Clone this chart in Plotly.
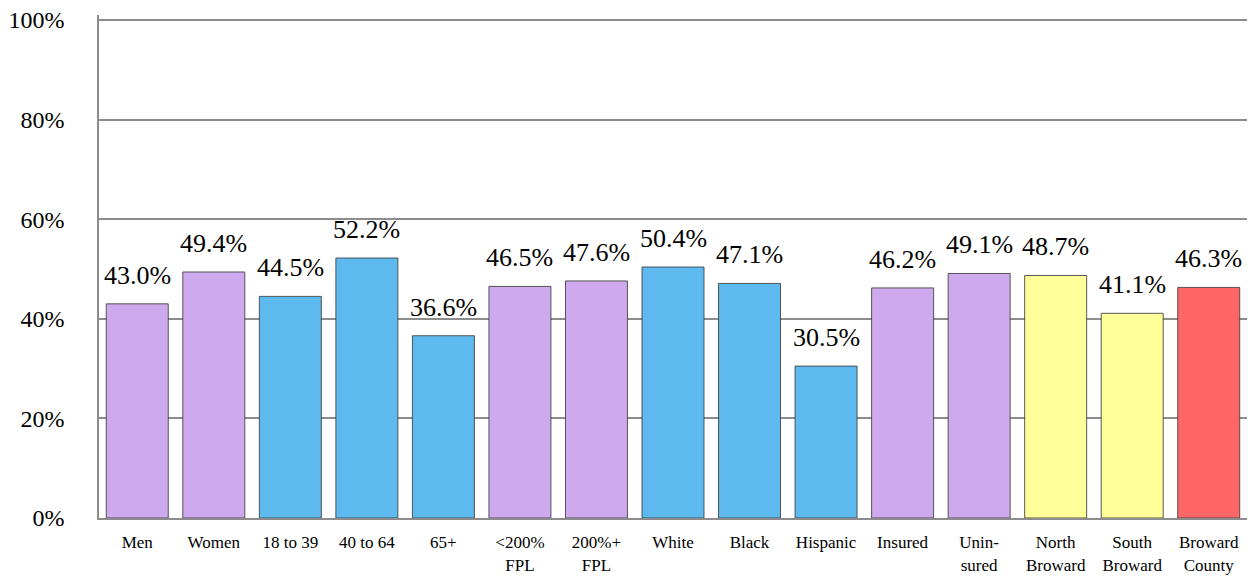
import plotly.graph_objects as go

categories = ["Men", "Women", "18 to 39", "40 to 64", "65+", "<200%<br>FPL", "200%+<br>FPL",
              "White", "Black", "Hispanic", "Insured", "Unin-<br>sured", "North<br>Broward",
              "South<br>Broward", "Broward<br>County"]
values = [43.0, 49.4, 44.5, 52.2, 36.6, 46.5, 47.6, 50.4, 47.1, 30.5, 46.2, 49.1, 48.7, 41.1, 46.3]
groups = ["purple", "purple", "blue", "blue", "blue", "purple", "purple",
          "blue", "blue", "blue", "purple", "purple", "yellow", "yellow", "red"]
palette = {"purple": "#CFA9EE", "blue": "#5EBAEE", "yellow": "#FFFF99", "red": "#FF6666"}
ytick_vals = [0, 20, 40, 60, 80, 100]
ytick_text = ["0%", "20%", "40%", "60%", "80%", "100%"]

FONT = "Liberation Serif"
label_font = dict(family=FONT, size=26, color="black")

fig = go.Figure(go.Bar(
    x=categories,
    y=values,
    marker=dict(color=[palette[g] for g in groups],
                line=dict(color="rgba(60,60,60,0.85)", width=1)),
    hoverinfo="x+y",
))

for c, v in zip(categories, values):
    fig.add_annotation(
        x=c, y=v, xref="x", yref="y",
        text=f"{v:.1f}%", showarrow=False,
        yanchor="bottom", yshift=12,
        font=label_font,
    )

fig.update_layout(
    width=1253, height=578,
    margin=dict(l=99, r=6, t=15, b=60),
    paper_bgcolor="white", plot_bgcolor="white",
    bargap=0.19,
    showlegend=False,
    font=dict(family=FONT, color="black"),
)
fig.update_yaxes(
    range=[0, 101], tickvals=ytick_vals, ticktext=ytick_text,
    showgrid=True, gridcolor="#8C8C8C", gridwidth=1.5,
    showline=True, linecolor="#8C8C8C", linewidth=1.5,
    tickfont=dict(family=FONT, size=24, color="black"),
    ticks="", ticklabelstandoff=28, zeroline=False, automargin=False,
)
fig.update_xaxes(
    showline=True, linecolor="#8C8C8C", linewidth=2,
    tickfont=dict(family=FONT, size=17, color="black"),
    ticks="", ticklabelstandoff=8, automargin=False,
)

fig.write_html(
    "out.html",
    config={"displayModeBar": False},
    post_script="document.body.style.margin='0';document.body.style.padding='0';",
)
